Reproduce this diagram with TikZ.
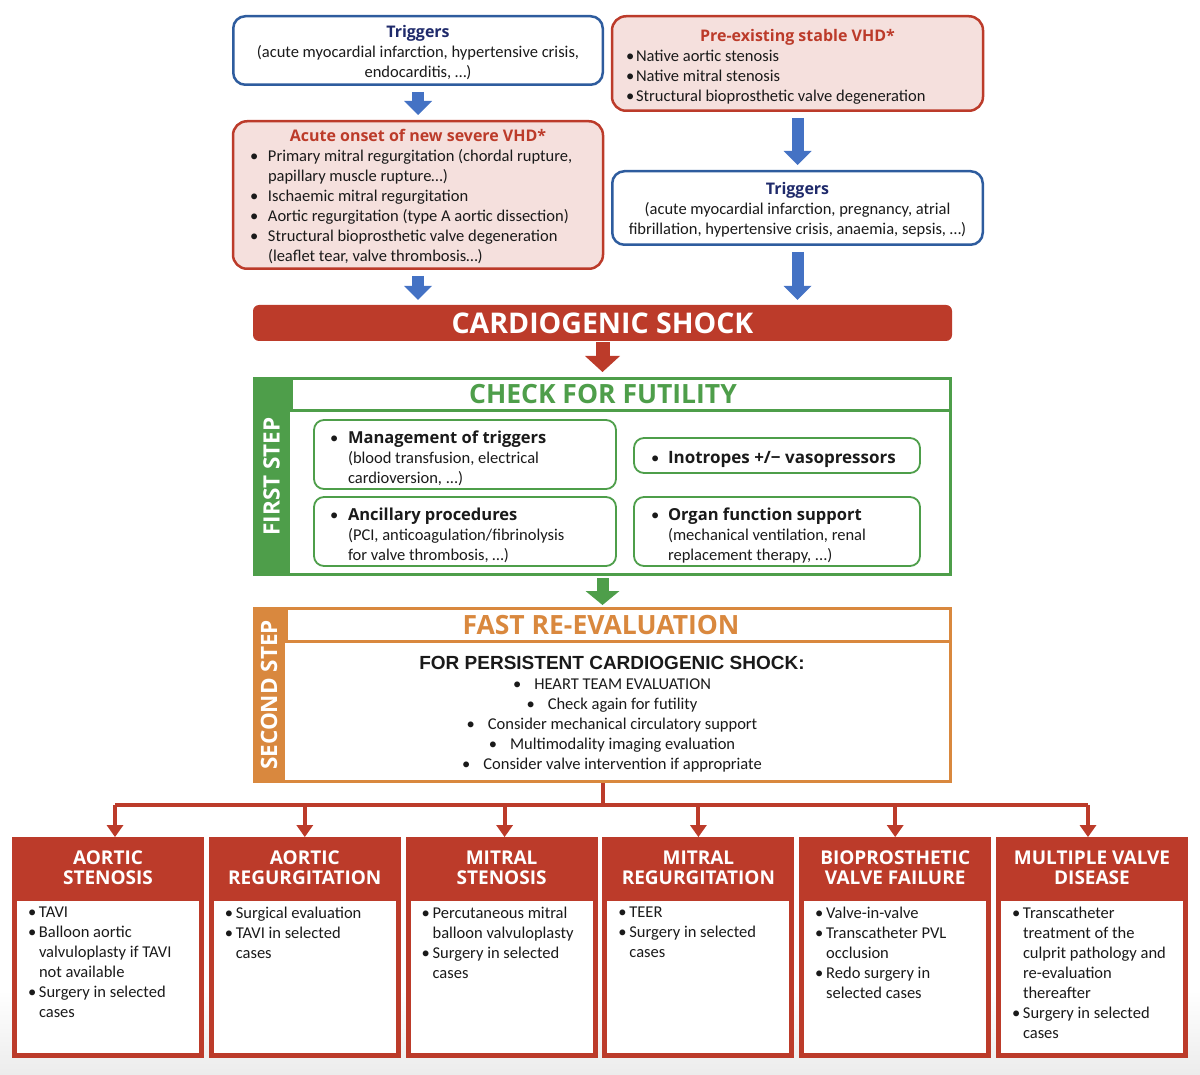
\documentclass[tikz,border=0pt]{standalone}
\usepackage{fontspec}
\setmainfont{Carlito}
\newfontfamily\headfont{Open Sans}
\newfontfamily\arialfont{Liberation Sans}
\usepackage{xcolor}
\usepackage{tikz}
\usetikzlibrary{positioning,arrows.meta}

\definecolor{vhdred}{HTML}{BC3B2A}
\definecolor{vhdpink}{HTML}{F5E0DD}
\definecolor{trigblue}{HTML}{2E5C9E}
\definecolor{trignavy}{HTML}{1F2A6B}
\definecolor{arrowblue}{HTML}{4472C4}
\definecolor{stepgreen}{HTML}{4E9E4A}
\definecolor{steporange}{HTML}{D9883E}
\definecolor{txtblack}{HTML}{1A1A1A}
\definecolor{footgray}{HTML}{ECECEC}

\newcommand{\txtsize}{\fontsize{16.5}{20}\selectfont}
\newcommand{\titlefont}{\headfont\bfseries\fontsize{16}{20}\selectfont}
\newcommand{\bulitem}[1][11pt]{\par\hangindent=#1\hangafter=1\noindent\makebox[#1][l]{\textbullet}}

\tikzset{
    trigbox/.style={draw=trigblue, line width=2.5pt, rounded corners=12pt, fill=white, align=center, font=\txtsize, text=txtblack, inner sep=2pt},
    vhdbox/.style={draw=vhdred, line width=2.5pt, rounded corners=14pt, fill=vhdpink, align=flush left, font=\txtsize, text=txtblack, inner ysep=4pt},
    greenbox/.style={draw=stepgreen, line width=1.8pt, rounded corners=10pt, align=flush left, font=\txtsize, text=txtblack, inner ysep=2pt},
    sidebar/.style={rotate=90, inner sep=0pt, text=white, font=\headfont\bfseries\fontsize{22.5}{24}\selectfont},
    stephead/.style={line width=3pt, inner sep=0pt, font=\headfont\bfseries\fontsize{26.5}{28}\selectfont},
    valvehead/.style={fill=vhdred, text=white, align=center, minimum width=192pt, minimum height=61pt, inner sep=0pt, outer sep=0pt, font=\headfont\bfseries\fontsize{19}{20}\selectfont},
    valvebody/.style={draw=vhdred, line width=5pt, fill=white, minimum width=187pt, minimum height=157.5pt, inner xsep=13.5pt, inner ysep=6pt, outer sep=0pt, font=\txtsize, text=txtblack},
    bluearrow/.style={draw=arrowblue, line width=12pt, -{Triangle[width=28pt,length=14pt,line width=0pt]}, shorten <=6pt, shorten >=5pt},
    redarrow/.style={draw=vhdred, line width=14pt, -{Triangle[width=35pt,length=16pt,line width=0pt]}, shorten <=1pt, shorten >=5pt},
    greenarrow/.style={draw=stepgreen, line width=12pt, -{Triangle[width=34pt,length=14pt,line width=0pt]}, shorten <=2pt, shorten >=2pt},
    redline/.style={draw=vhdred, line width=4pt},
    redtip/.style={redline, -{Triangle[width=17pt,length=12pt,line width=0pt]}}
}

\begin{document}
\begin{tikzpicture}[x=1pt, y=-1pt]
        \useasboundingbox (0,0) rectangle (1200,1075);
        \fill[top color=white, bottom color=footgray] (0,990) rectangle (1200,1075);

        % how valve disease ends in shock
        \node[trigbox, minimum width=369.5pt, minimum height=68.5pt] (trigA) at (418,50.5)
            {{\titlefont\color{trignavy}\rule{0pt}{16pt}Triggers}\\(acute myocardial infarction, hypertensive crisis,\\endocarditis, \dots)};
        \node[vhdbox, text width=343pt, inner xsep=14pt, minimum height=94.5pt] (preVHD) at (797.5,63.5)
            {{\centering\titlefont\color{vhdred}\rule{0pt}{18pt}Pre-existing stable VHD*\par}\bulitem[10pt]Native aortic stenosis\bulitem[10pt]Native mitral stenosis\bulitem[10pt]Structural bioprosthetic valve degeneration\par};
        \node[vhdbox, text width=336pt, inner xsep=17pt, minimum height=147.5pt] (acute) at (418,195)
            {{\centering\titlefont\color{vhdred}\rule{0pt}{16pt}Acute onset of new severe VHD*\par}\bulitem[18pt]Primary mitral regurgitation (chordal rupture,\newline papillary muscle rupture\dots)\bulitem[18pt]Ischaemic mitral regurgitation\bulitem[18pt]Aortic regurgitation (type A aortic dissection)\bulitem[18pt]Structural bioprosthetic valve degeneration\newline (leaflet tear, valve thrombosis\dots)\par};
        \node[trigbox, minimum width=370.5pt, minimum height=73.5pt] (trigB) at (797.5,208)
            {{\titlefont\color{trignavy}\rule{0pt}{16pt}Triggers}\\(acute myocardial infarction, pregnancy, atrial\\fibrillation, hypertensive crisis, anaemia, sepsis, \dots)};
        \node[fill=vhdred, rounded corners=6pt, minimum width=699pt, minimum height=36pt, inner sep=0pt, text=white, font=\headfont\bfseries\fontsize{28.5}{30}\selectfont] (shock) at (602.5,323) {CARDIOGENIC SHOCK};

        \draw[bluearrow] (trigA) -- (acute);
        \draw[bluearrow] (preVHD) -- (trigB);
        \draw[bluearrow] (acute.south) -- (acute.south |- shock.north);
        \draw[bluearrow] (trigB.south) -- (trigB.south |- shock.north);

        % first step
        \node[draw=stepgreen, line width=3pt, fill=white, minimum width=696pt, minimum height=196pt] (futile) at (602.5,476.5) {};
        \node[sidebar, fill=stepgreen, minimum width=199pt, minimum height=37pt] (futSide) at (271.5,476.5) {FIRST STEP};
        \node[stephead, draw=stepgreen, text=stepgreen, minimum width=659pt, minimum height=31.5pt] (futHead) at (621,394.25) {\hspace*{-36pt}CHECK FOR FUTILITY};
        \node[greenbox, text width=270pt, inner xsep=16pt, minimum height=69pt] (mgmt) at (465,454.5)
            {\bulitem[18pt]{\headfont\bfseries Management of triggers}\newline (blood transfusion, electrical\newline cardioversion, ...)\par};
        \node[greenbox, text width=252pt, inner xsep=17pt, minimum height=35pt] (ino) at (777,455.5)
            {\bulitem[17pt]{\headfont\bfseries\fontsize{17}{20}\selectfont Inotropes +/− vasopressors}\par};
        \node[greenbox, text width=270pt, inner xsep=16pt, minimum height=69pt] (ancil) at (465,531.5)
            {\bulitem[18pt]{\headfont\bfseries Ancillary procedures}\newline (PCI, anticoagulation/fibrinolysis\newline for valve thrombosis, \dots)\par};
        \node[greenbox, text width=252pt, inner xsep=17pt, minimum height=69pt] (organ) at (777,531.5)
            {\bulitem[17pt]{\headfont\bfseries Organ function support}\newline (mechanical ventilation, renal\newline replacement therapy, ...)\par};

        \draw[redarrow] (shock) -- (futile);

        % second step
        \node[draw=steporange, line width=3pt, fill=white, minimum width=696pt, minimum height=173pt] (reeval) at (602.5,695) {};
        \node[sidebar, fill=steporange, minimum width=176pt, minimum height=32pt] (reSide) at (269,695) {SECOND STEP};
        \node[stephead, draw=steporange, text=steporange, minimum width=664pt, minimum height=32.5pt] (reHead) at (618.5,624.75) {\hspace*{-35pt}FAST RE-EVALUATION};
        \node[align=center, font=\txtsize, text=txtblack] (persist) at (612,714)
            {{\arialfont\bfseries\fontsize{19}{21}\selectfont FOR PERSISTENT CARDIOGENIC SHOCK:}\\
             \textbullet\hspace{13pt}HEART TEAM EVALUATION\\
             \textbullet\hspace{13pt}Check again for futility\\
             \textbullet\hspace{13pt}Consider mechanical circulatory support\\
             \textbullet\hspace{13pt}Multimodality imaging evaluation\\
             \textbullet\hspace{13pt}Consider valve intervention if appropriate};

        \draw[greenarrow] (futile) -- (reeval);

        % valve specific treatment
        \node[valvehead, anchor=north] (as) at (108,837) {AORTIC\\STENOSIS};
        \node[valvehead, right=4.8pt of as] (ar) {AORTIC\\REGURGITATION};
        \node[valvehead, right=4.8pt of ar] (ms) {MITRAL\\STENOSIS};
        \node[valvehead, right=4.8pt of ms] (mr) {MITRAL\\REGURGITATION};
        \node[valvehead, right=4.8pt of mr] (bvf) {BIOPROSTHETIC\\VALVE FAILURE};
        \node[valvehead, right=4.8pt of bvf] (mvd) {MULTIPLE VALVE\\DISEASE};

        \node[valvebody, below=0pt of as] (asBody)
            {\parbox[t][140pt][t]{160pt}{\raggedright\bulitem TAVI\bulitem Balloon aortic\newline valvuloplasty if TAVI\newline not available\bulitem Surgery in selected\newline cases}};
        \node[valvebody, below=0pt of ar] (arBody)
            {\parbox[t][140pt][t]{160pt}{\raggedright\bulitem Surgical evaluation\bulitem TAVI in selected\newline cases}};
        \node[valvebody, below=0pt of ms] (msBody)
            {\parbox[t][140pt][t]{160pt}{\raggedright\bulitem Percutaneous mitral\newline balloon valvuloplasty\bulitem Surgery in selected\newline cases}};
        \node[valvebody, below=0pt of mr] (mrBody)
            {\parbox[t][140pt][t]{160pt}{\raggedright\bulitem TEER\bulitem Surgery in selected\newline cases}};
        \node[valvebody, below=0pt of bvf] (bvfBody)
            {\parbox[t][140pt][t]{160pt}{\raggedright\bulitem Valve-in-valve\bulitem Transcatheter PVL\newline occlusion\bulitem Redo surgery in\newline selected cases}};
        \node[valvebody, below=0pt of mvd] (mvdBody)
            {\parbox[t][140pt][t]{160pt}{\raggedright\bulitem Transcatheter\newline treatment of the\newline culprit pathology and\newline re-evaluation\newline thereafter\bulitem Surgery in selected\newline cases}};

        \draw[redline] (reeval.south) -- ++(0,22) coordinate (bus);
        \draw[redline] ([xshift=7pt]as.north |- bus) -- ([xshift=-4pt]mvd.north |- bus);
        \draw[redtip] ([xshift=7pt]as.north |- bus) -- ([xshift=7pt]as.north);
        \draw[redtip] (ar.north |- bus) -- (ar.north);
        \draw[redtip] ([xshift=3pt]ms.north |- bus) -- ([xshift=3pt]ms.north);
        \draw[redtip] (mr.north |- bus) -- (mr.north);
        \draw[redtip] (bvf.north |- bus) -- (bvf.north);
        \draw[redtip] ([xshift=-4pt]mvd.north |- bus) -- ([xshift=-4pt]mvd.north);
    \end{tikzpicture}
\end{document}
